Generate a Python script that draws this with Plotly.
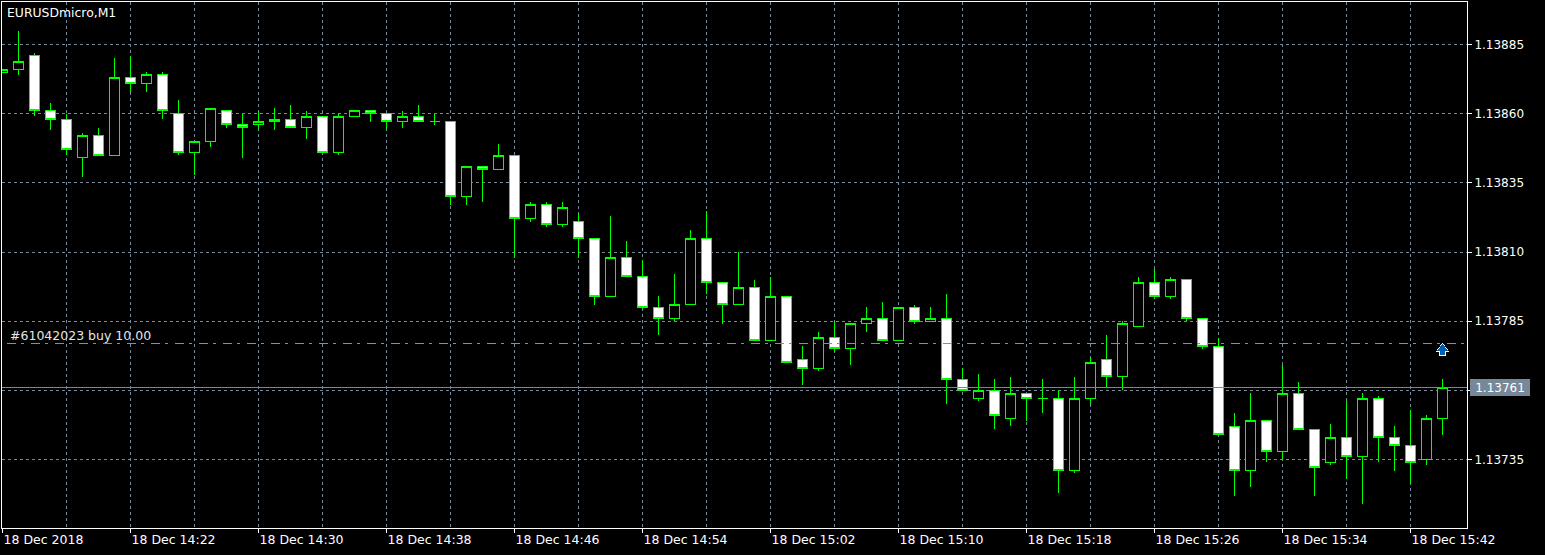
import plotly.graph_objects as go

symbol_title = "EURUSDmicro,M1"
order_label = "#61042023 buy 10.00"
order_price = 1.13777
bid_price = 1.13761
bid_label = "1.13761"

opens = [1.13875,1.13876,1.13881,1.13861,1.13858,1.13844,1.13852,1.13845,1.13873,1.13871,
         1.13874,1.13860,1.13846,1.13850,1.13861,1.13856,1.13856,1.13857,1.13858,1.13855,
         1.13859,1.13846,1.13859,1.13861,1.13860,1.13857,1.13859,1.13857,1.13857,1.13830,
         1.13841,1.13840,1.13845,1.13822,1.13827,1.13820,1.13821,1.13815,1.13794,1.13808,
         1.13801,1.13790,1.13786,1.13791,1.13815,1.13799,1.13791,1.13797,1.13778,1.13794,
         1.13771,1.13768,1.13779,1.13775,1.13784,1.13786,1.13778,1.13790,1.13785,1.13786,
         1.13764,1.13757,1.13760,1.13750,1.13759,1.13757,1.13757,1.13731,1.13757,1.13771,
         1.13765,1.13783,1.13799,1.13794,1.13800,1.13786,1.13776,1.13747,1.13731,1.13749,
         1.13738,1.13759,1.13746,1.13734,1.13743,1.13736,1.13757,1.13743,1.13740,1.13735,
         1.13750]
closes = [1.13876,1.13879,1.13861,1.13858,1.13847,1.13852,1.13845,1.13873,1.13871,1.13874,
          1.13861,1.13846,1.13850,1.13862,1.13856,1.13855,1.13857,1.13858,1.13855,1.13859,
          1.13846,1.13859,1.13861,1.13860,1.13857,1.13859,1.13857,1.13857,1.13830,1.13841,
          1.13840,1.13845,1.13822,1.13827,1.13820,1.13826,1.13815,1.13794,1.13808,1.13801,
          1.13790,1.13786,1.13791,1.13815,1.13799,1.13791,1.13797,1.13778,1.13794,1.13770,
          1.13768,1.13779,1.13775,1.13784,1.13786,1.13778,1.13790,1.13785,1.13786,1.13764,
          1.13760,1.13760,1.13751,1.13759,1.13757,1.13757,1.13731,1.13757,1.13770,1.13765,
          1.13784,1.13799,1.13794,1.13800,1.13786,1.13776,1.13744,1.13731,1.13749,1.13738,
          1.13759,1.13746,1.13732,1.13743,1.13736,1.13757,1.13743,1.13740,1.13734,1.13750,
          1.13761]
highs = [1.13876,1.13890,1.13882,1.13864,1.13860,1.13853,1.13855,1.13880,1.13881,1.13875,
         1.13875,1.13865,1.13850,1.13862,1.13861,1.13860,1.13861,1.13862,1.13863,1.13861,
         1.13859,1.13860,1.13861,1.13861,1.13860,1.13861,1.13863,1.13860,1.13857,1.13841,
         1.13841,1.13849,1.13845,1.13828,1.13828,1.13828,1.13824,1.13815,1.13823,1.13814,
         1.13807,1.13794,1.13802,1.13818,1.13825,1.13799,1.13810,1.13800,1.13801,1.13794,
         1.13776,1.13781,1.13785,1.13784,1.13790,1.13792,1.13790,1.13791,1.13790,1.13795,
         1.13768,1.13766,1.13764,1.13765,1.13759,1.13764,1.13760,1.13765,1.13772,1.13780,
         1.13785,1.13801,1.13804,1.13801,1.13800,1.13786,1.13779,1.13752,1.13759,1.13749,
         1.13769,1.13763,1.13746,1.13748,1.13756,1.13759,1.13758,1.13747,1.13753,1.13751,
         1.13764]
lows = [1.13875,1.13874,1.13859,1.13854,1.13845,1.13837,1.13845,1.13845,1.13868,1.13868,
        1.13858,1.13845,1.13838,1.13848,1.13855,1.13844,1.13854,1.13854,1.13855,1.13851,
        1.13846,1.13845,1.13859,1.13857,1.13854,1.13855,1.13857,1.13856,1.13827,1.13827,
        1.13828,1.13840,1.13808,1.13821,1.13819,1.13819,1.13808,1.13791,1.13794,1.13801,
        1.13789,1.13780,1.13785,1.13791,1.13795,1.13784,1.13791,1.13778,1.13778,1.13770,
        1.13762,1.13767,1.13774,1.13769,1.13781,1.13778,1.13778,1.13784,1.13785,1.13755,
        1.13760,1.13756,1.13746,1.13747,1.13749,1.13752,1.13723,1.13730,1.13755,1.13761,
        1.13760,1.13783,1.13793,1.13793,1.13785,1.13775,1.13744,1.13722,1.13725,1.13734,
        1.13735,1.13746,1.13722,1.13733,1.13728,1.13719,1.13734,1.13731,1.13726,1.13733,
        1.13744]
bars = list(range(len(opens)))

x_tick_bars = [0, 8, 16, 24, 32, 40, 48, 56, 64, 72, 80, 88]
x_tick_labels = ["18 Dec 2018", "18 Dec 14:22", "18 Dec 14:30", "18 Dec 14:38",
                 "18 Dec 14:46", "18 Dec 14:54", "18 Dec 15:02", "18 Dec 15:10",
                 "18 Dec 15:18", "18 Dec 15:26", "18 Dec 15:34", "18 Dec 15:42"]
x_grid_bars = [4, 12, 20, 28, 36, 44, 52, 60, 68, 76, 84]
y_ticks = [1.13735, 1.13760, 1.13785, 1.13810, 1.13835, 1.13860, 1.13885]
y_tick_labels = ["1.13735", "", "1.13785", "1.13810", "1.13835", "1.13860", "1.13885"]

arrow_bar = 90
arrow_head_price = 1.13775
arrow_stem_price = 1.137737

GRID = "#778899"
LIME = "#00ff00"
FONT = "DejaVu Sans"
X_MIN = -0.03125
X_MAX = 91.53125

fig = go.Figure()
fig.add_trace(go.Scatter(x=[X_MIN, X_MAX], y=[bid_price, bid_price], mode="lines",
                         line=dict(color=GRID, width=1), hoverinfo="skip", showlegend=False))
fig.add_trace(go.Scatter(x=[0.25, X_MAX], y=[order_price, order_price], mode="lines",
                         line=dict(color="#32cd32", width=1, dash="9px,5px,3px,7px"),
                         hoverinfo="skip", showlegend=False))
fig.add_trace(go.Candlestick(
    x=bars, open=opens, high=highs, low=lows, close=closes, whiskerwidth=0,
    increasing=dict(line=dict(color=LIME, width=1), fillcolor="#000000"),
    decreasing=dict(line=dict(color=LIME, width=1), fillcolor="#ffffff"),
    showlegend=False))
fig.add_trace(go.Scatter(
    x=[arrow_bar] * 4,
    y=[arrow_stem_price, arrow_head_price, arrow_stem_price, arrow_head_price],
    mode="markers", hoverinfo="skip", showlegend=False,
    marker=dict(symbol=["square", "triangle-up", "square", "triangle-up"],
                size=[7, 12, 5, 10], opacity=1,
                color=["#ffffff", "#ffffff", "#0060b0", "#0060b0"],
                line=dict(width=0))))

fig.update_layout(
    width=1545, height=555, autosize=False,
    margin=dict(l=2, r=78, t=2, b=27),
    paper_bgcolor="#000000", plot_bgcolor="#000000",
    font=dict(family=FONT, size=12, color="#ffffff"),
    boxgap=0.375, boxgroupgap=0,
    xaxis=dict(
        range=[X_MIN, X_MAX], rangeslider=dict(visible=False),
        showline=True, mirror=True, linecolor="#ffffff", linewidth=1,
        tickmode="array", tickvals=x_tick_bars, ticktext=x_tick_labels,
        ticks="outside", ticklen=4, tickwidth=1, tickcolor="#ffffff",
        ticklabelposition="outside right", tickangle=0,
        tickfont=dict(family=FONT, size=12.5, color="#ffffff"),
        showgrid=True, gridcolor=GRID, gridwidth=1, griddash="3px,3px", zeroline=False,
        minor=dict(tickmode="array", tickvals=x_grid_bars, showgrid=True, gridcolor=GRID,
                   gridwidth=1, griddash="3px,3px", ticks=""),
    ),
    yaxis=dict(
        range=[1.1371026, 1.1390036], side="right",
        showline=True, mirror=True, linecolor="#ffffff", linewidth=1,
        tickmode="array", tickvals=y_ticks, ticktext=y_tick_labels,
        ticks="outside", ticklen=4, tickwidth=1, tickcolor="#ffffff",
        tickfont=dict(family=FONT, size=12, color="#ffffff"),
        showgrid=True, gridcolor=GRID, gridwidth=1, griddash="3px,3px", zeroline=False,
    ),
    annotations=[
        dict(text=symbol_title, xref="paper", yref="paper", x=0.002, y=0.9975, xanchor="left",
             yanchor="top", showarrow=False, font=dict(family=FONT, size=12.4, color="#ffffff")),
        dict(text=order_label, xref="x", yref="y", x=0.32, y=1.137797, xanchor="left",
             yanchor="middle", showarrow=False, font=dict(family=FONT, size=12.5, color="#e6e6e6")),
        dict(text=bid_label, xref="paper", yref="y", x=1.002, y=bid_price, xanchor="left",
             yanchor="middle", showarrow=False, width=60, height=17, bgcolor=GRID,
             borderpad=0, borderwidth=0, align="center",
             font=dict(family=FONT, size=12, color="#ffffff")),
    ],
)

post = """document.body.style.margin='0';document.body.style.overflow='hidden';
var s=document.createElement('style');s.textContent='.main-svg path{shape-rendering:crispEdges}';document.head.appendChild(s);"""
fig.write_html("out.html", config={"displayModeBar": False}, post_script=post)
